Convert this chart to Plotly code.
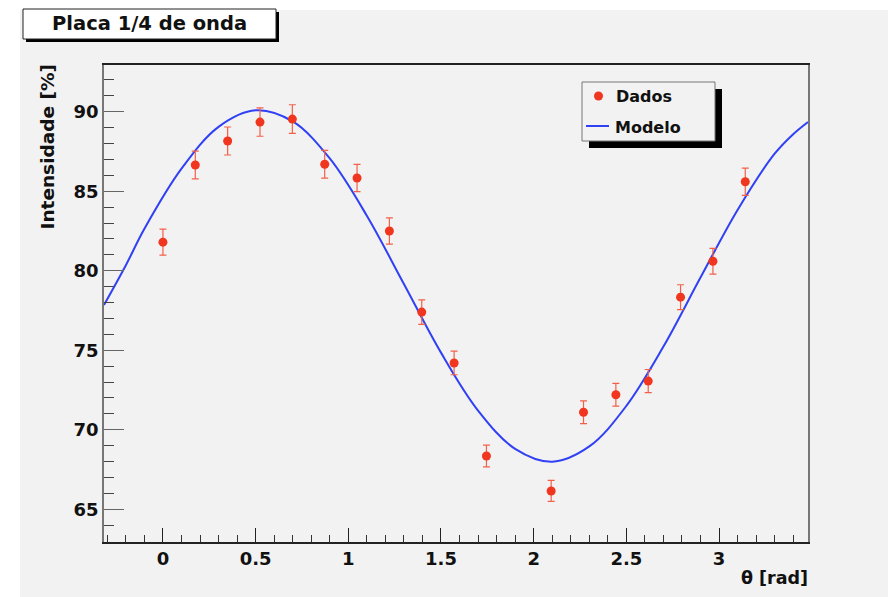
import plotly.graph_objects as go

# ---- data ----
theta = [0.0, 0.1745, 0.3491, 0.5236, 0.6981, 0.8727, 1.0472, 1.2217, 1.3963,
         1.5708, 1.7453, 2.0944, 2.2689, 2.4435, 2.6180, 2.7925, 2.9671, 3.1416]
intens = [81.8, 86.65, 88.16, 89.35, 89.54, 86.7, 85.83, 82.5, 77.4,
          74.2, 68.35, 66.15, 71.1, 72.2, 73.06, 78.34, 80.6, 85.6]
err = [0.82, 0.87, 0.88, 0.89, 0.9, 0.87, 0.86, 0.83, 0.77,
       0.74, 0.68, 0.66, 0.71, 0.72, 0.73, 0.78, 0.81, 0.86]

model_x = [-0.318, -0.2, -0.1, 0.1, 0.3, 0.5, 0.7, 0.9, 1.1, 1.3, 1.5, 1.7, 1.9,
           2.1, 2.3, 2.5, 2.7, 2.9, 3.1, 3.3, 3.4, 3.48]
model_y = [77.85, 80.35, 82.64, 86.42, 89.05, 90.09, 89.39, 87.06, 83.46, 79.17, 74.85,
           71.21, 68.80, 67.99, 68.95, 71.50, 75.23, 79.57, 83.82, 87.36, 88.59, 89.36]

title_text = "Placa 1/4 de onda"
x_title = "θ [rad]"
y_title = "Intensidade [%]"
legend_labels = ["Dados", "Modelo"]

# ---- layout geometry (reference pixels) ----
OFF = 8                      # page body margin
W, H = 896, 597
L, R, T, B = 104, 808, 65, 542
GREY = "#f2f2f2"
RED = "#f0361e"
BLUE = "#3040f5"
FONT = "DejaVu Sans, Verdana, sans-serif"


def px(x):
    return (x - L) / (R - L)


def py(y):
    return (B - y) / (B - T)


fig = go.Figure()

fig.add_trace(go.Scatter(
    x=model_x, y=model_y, mode="lines", line=dict(color=BLUE, width=2, shape="spline"),
    showlegend=False, hoverinfo="skip"))

fig.add_trace(go.Scatter(
    x=theta, y=intens, mode="markers",
    marker=dict(color=RED, size=9, symbol="circle"),
    error_y=dict(type="data", array=err, color="#f2604a", thickness=1.2, width=3.5),
    showlegend=False))

shapes = []
shapes.append(dict(type="rect", xref="paper", yref="paper", layer="below",
                   x0=px(20), x1=px(W + 20), y0=py(10), y1=py(H + 20),
                   fillcolor=GREY, line=dict(width=0)))
shapes.append(dict(type="rect", xref="paper", yref="paper",
                   x0=px(26), x1=px(279), y0=py(12), y1=py(42),
                   fillcolor="black", line=dict(width=0)))
shapes.append(dict(type="rect", xref="paper", yref="paper",
                   x0=px(23), x1=px(276), y0=py(9), y1=py(39),
                   fillcolor="white", line=dict(color="#222", width=1)))
shapes.append(dict(type="rect", xref="paper", yref="paper",
                   x0=px(589), x1=px(722), y0=py(89), y1=py(148),
                   fillcolor="black", line=dict(width=0)))
shapes.append(dict(type="rect", xref="paper", yref="paper",
                   x0=px(582), x1=px(715), y0=py(82), y1=py(141),
                   fillcolor=GREY, line=dict(color="#777", width=1)))
shapes.append(dict(type="circle", xref="paper", yref="paper",
                   x0=px(594), x1=px(603), y0=py(91.5), y1=py(100.5),
                   fillcolor=RED, line=dict(width=0)))
shapes.append(dict(type="line", xref="paper", yref="paper",
                   x0=px(586), x1=px(609), y0=py(126), y1=py(126),
                   line=dict(color=BLUE, width=2)))

annotations = [
    dict(text=title_text, xref="paper", yref="paper", x=px(149.5), y=py(24),
         xanchor="center", yanchor="middle", showarrow=False,
         font=dict(family=FONT, size=19.5, color="#111", weight="bold")),
    dict(text=legend_labels[0], xref="paper", yref="paper", x=px(614), y=py(97),
         xanchor="left", yanchor="middle", showarrow=False,
         font=dict(family=FONT, size=16, color="#111", weight="bold")),
    dict(text=legend_labels[1], xref="paper", yref="paper", x=px(613), y=py(127),
         xanchor="left", yanchor="middle", showarrow=False,
         font=dict(family=FONT, size=16, color="#111", weight="bold")),
    dict(text=x_title, xref="paper", yref="paper", x=px(810), y=py(578),
         xanchor="right", yanchor="middle", showarrow=False,
         font=dict(family=FONT, size=17.5, color="#111", weight="bold")),
    dict(text=y_title, xref="paper", yref="paper", x=px(47), y=py(63),
         xanchor="center", yanchor="top", showarrow=False, textangle=-90,
         font=dict(family=FONT, size=18.5, color="#111", weight="bold")),
]

fig.update_layout(
    width=W - OFF, height=H - OFF,
    margin=dict(l=L - OFF, r=W - R, t=T - OFF, b=H - B, pad=0),
    paper_bgcolor="white", plot_bgcolor=GREY,
    shapes=shapes, annotations=annotations,
    font=dict(family=FONT, color="#111"),
)

fig.update_xaxes(
    range=[-0.318, 3.48], dtick=0.5, tick0=0, ticks="inside", ticklen=14,
    tickcolor="#222", tickwidth=1.2, showgrid=False, zeroline=False,
    showline=True, linecolor="#222", linewidth=1.5, mirror=True,
    tickfont=dict(family=FONT, size=18, color="#111", weight="bold"),
    minor=dict(dtick=0.1, ticks="inside", ticklen=7, tickcolor="#333", showgrid=False),
)
fig.update_yaxes(
    range=[62.94, 92.94], dtick=5, tick0=0, ticks="inside", ticklen=20,
    tickcolor="#666", tickwidth=1.2, showgrid=False, zeroline=False,
    showline=True, linecolor="#777", linewidth=1.5, mirror=True,
    tickfont=dict(family=FONT, size=18, color="#111", weight="bold"),
    minor=dict(dtick=1, ticks="inside", ticklen=10, tickcolor="#444", showgrid=False),
)

fig.write_html("out.html")
